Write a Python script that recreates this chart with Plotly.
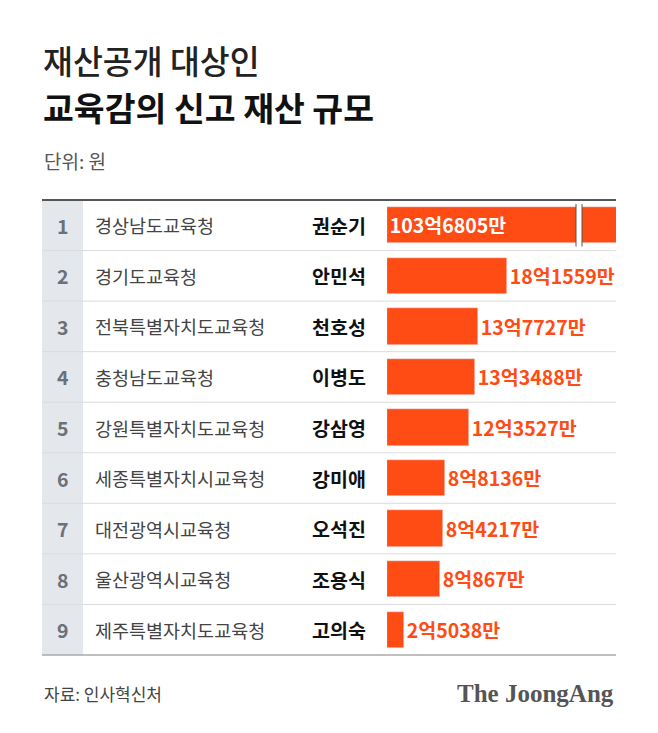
import plotly.graph_objects as go

# Data (values in 억원)
ranks = ["1", "2", "3", "4", "5", "6", "7", "8", "9"]
offices = ["경상남도교육청", "경기도교육청", "전북특별자치도교육청", "충청남도교육청",
           "강원특별자치도교육청", "세종특별자치시교육청", "대전광역시교육청",
           "울산광역시교육청", "제주특별자치도교육청"]
names = ["권순기", "안민석", "천호성", "이병도", "강삼영", "강미애", "오석진", "조용식", "고의숙"]
values = [103.6805, 18.1559, 13.7727, 13.3488, 12.3527, 8.8136, 8.4217, 8.0867, 2.5038]
labels = ["103억6805만", "18억1559만", "13억7727만", "13억3488만", "12억3527만",
          "8억8136만", "8억4217만", "8억867만", "2억5038만"]

# page body adds an 8px margin, so the figure is a bit smaller than the window
OFF = 8
W, H = 658 - 2 * OFF, 733 - 2 * OFF
ORANGE = "#FF4B14"
KR = "Noto Sans CJK KR"


def px(x):
    return (x - OFF) / W


def py(y):
    return 1 - (y - OFF) / H


TOP, BOTTOM = 200, 655
L, R = 42, 616
BAR_X0 = 387

fig = go.Figure()

fig.add_trace(go.Bar(
    x=values, y=list(range(len(values))), orientation="h",
    marker_color=ORANGE, width=0.72,
    text=labels, texttemplate="<b>%{text}</b>",
    textposition=["inside"] + ["outside"] * 8,
    insidetextanchor="start",
    textfont=dict(family=KR, size=19.5, color=["white"] + [ORANGE] * 8),
    constraintext="none", cliponaxis=True,
    hoverinfo="skip",
))

fig.update_layout(
    width=W, height=H, margin=dict(l=0, r=0, t=0, b=0),
    paper_bgcolor="white", plot_bgcolor="rgba(0,0,0,0)",
    showlegend=False, bargap=0,
    xaxis=dict(domain=[px(BAR_X0), px(R)], range=[0, (R - BAR_X0) / 6.6],
               visible=False, fixedrange=True),
    yaxis=dict(domain=[py(BOTTOM), py(TOP)], range=[len(values) - 0.5, -0.5],
               visible=False, fixedrange=True),
)

shapes = []
# rank column background
shapes.append(dict(type="rect", xref="paper", yref="paper", x0=px(L), x1=px(83),
                   y0=py(BOTTOM), y1=py(TOP), fillcolor="#E4E7EB", line_width=0, layer="below"))
# row separators
for i in range(1, len(values)):
    shapes.append(dict(type="line", xref="paper", yref="y", x0=px(L), x1=px(R),
                       y0=i - 0.5, y1=i - 0.5, line=dict(color="#DCDCDC", width=1)))
shapes.append(dict(type="line", xref="paper", yref="paper", x0=px(L), x1=px(R),
                   y0=py(TOP), y1=py(TOP), line=dict(color="#555555", width=2)))
shapes.append(dict(type="line", xref="paper", yref="paper", x0=px(L), x1=px(R),
                   y0=py(BOTTOM), y1=py(BOTTOM), line=dict(color="#AAAAAA", width=1.5)))
# axis break on the first bar
shapes.append(dict(type="rect", xref="paper", yref="y", x0=px(576), x1=px(582),
                   y0=-0.45, y1=0.45, fillcolor="white", line_width=0))
for bx in (576, 582):
    shapes.append(dict(type="line", xref="paper", yref="y", x0=px(bx), x1=px(bx),
                       y0=-0.42, y1=0.42, line=dict(color="#555555", width=1)))
fig.update_layout(shapes=shapes)

ann = []
for i in range(len(values)):
    ann.append(dict(x=px(63), y=i, xref="paper", yref="y", text=f"<b>{ranks[i]}</b>",
                    showarrow=False, xanchor="center",
                    font=dict(family=KR, size=19.5, color="#6B7079")))
    ann.append(dict(x=px(93), y=i, xref="paper", yref="y", text=offices[i],
                    showarrow=False, xanchor="left",
                    font=dict(family=KR, size=18.5, color="#444444")))
    ann.append(dict(x=px(368), y=i, xref="paper", yref="y", text=f"<b>{names[i]}</b>",
                    showarrow=False, xanchor="right",
                    font=dict(family=KR, size=19.5, color="#111111")))

ann += [
    dict(x=px(41), y=py(60), xref="paper", yref="paper", text="재산공개 대상인",
         showarrow=False, xanchor="left", yanchor="middle",
         font=dict(family=KR, size=32.5, color="#222222", weight=500)),
    dict(x=px(41), y=py(106), xref="paper", yref="paper", text="<b>교육감의 신고 재산 규모</b>",
         showarrow=False, xanchor="left", yanchor="middle",
         font=dict(family=KR, size=33.5, color="#111111", weight=900)),
    dict(x=px(L), y=py(161), xref="paper", yref="paper", text="단위: 원",
         showarrow=False, xanchor="left", yanchor="middle",
         font=dict(family=KR, size=19, color="#555555")),
    dict(x=px(L), y=py(693), xref="paper", yref="paper", text="자료: 인사혁신처",
         showarrow=False, xanchor="left", yanchor="middle",
         font=dict(family=KR, size=17, color="#444444")),
    dict(x=px(R), y=py(693), xref="paper", yref="paper", text="<b>The JoongAng</b>",
         showarrow=False, xanchor="right", yanchor="middle",
         font=dict(family="Liberation Serif", size=25, color="#555555")),
]
fig.update_layout(annotations=ann)

fig.write_html("out.html")
